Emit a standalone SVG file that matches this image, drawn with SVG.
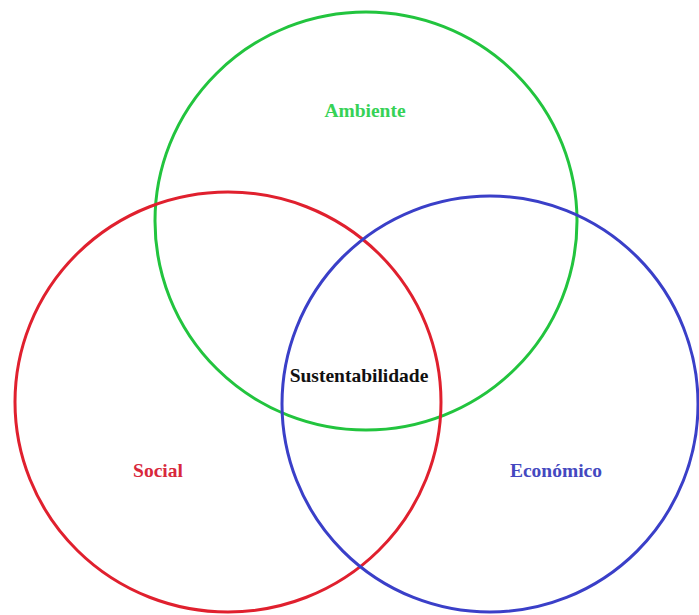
<svg xmlns="http://www.w3.org/2000/svg" width="699" height="615" viewBox="0 0 699 615">
<style>
.c{fill:none;stroke-width:3}
.t{font-family:"Liberation Serif","Times New Roman",serif;font-weight:bold;font-size:19.5px;text-anchor:middle}
</style>
<rect width="699" height="615" fill="#ffffff"/>
<g id="ambiente">
<ellipse class="c" cx="366" cy="221" rx="211" ry="209" stroke="#22c43e"/>
<text class="t" x="365" y="117" fill="#36d256">Ambiente</text>
</g>
<g id="social">
<ellipse class="c" cx="228" cy="402" rx="213" ry="210" stroke="#e0202e"/>
<text class="t" x="158" y="477" fill="#d8283c">Social</text>
</g>
<g id="economico">
<circle class="c" cx="490" cy="404" r="208" stroke="#3a3fc8"/>
<text class="t" x="556" y="477" fill="#4448c0">Económico</text>
</g>
<g id="sustentabilidade">
<text class="t" x="359" y="382" fill="#111111">Sustentabilidade</text>
</g>
<g id="connectors"/>
</svg>
